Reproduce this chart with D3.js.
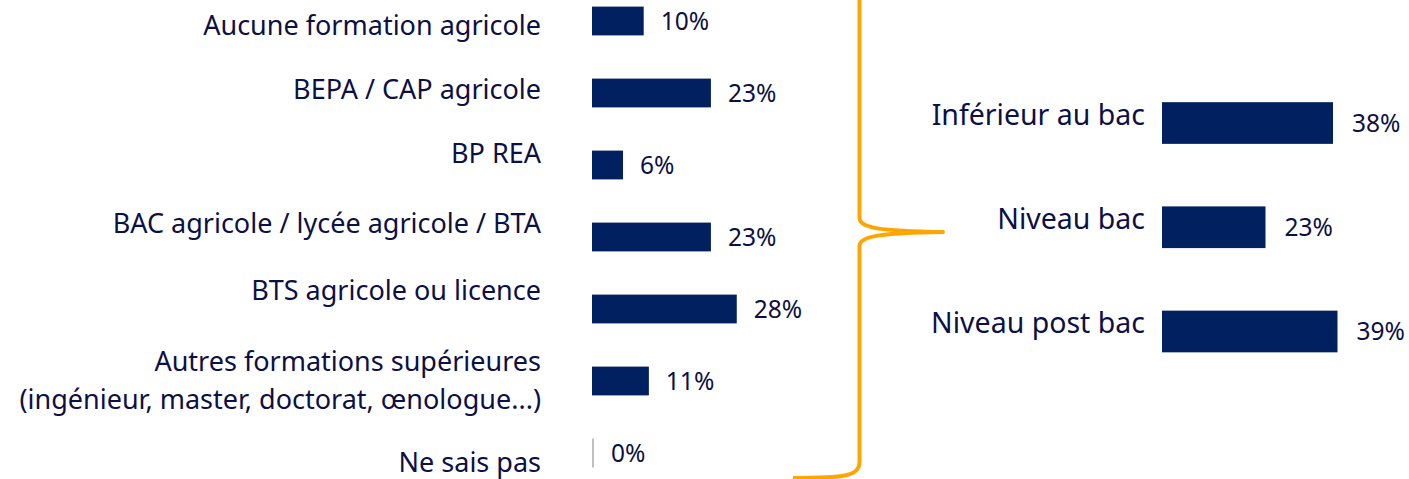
<!DOCTYPE html>
<html>
<head>
<meta charset="utf-8">
<script src="https://cdn.jsdelivr.net/npm/d3@7"></script>
<style>
  html, body { margin: 0; padding: 0; background: #ffffff; }
  svg { display: block; }
</style>
</head>
<body>
<svg id="chart" width="1409" height="479"></svg>
<script>
// ---- data ----
const categories = [
  "Aucune formation agricole",
  "BEPA / CAP agricole",
  "BP REA",
  "BAC agricole / lycée agricole / BTA",
  "BTS agricole ou licence",
  "Autres formations supérieures\n(ingénieur, master, doctorat, œnologue...)",
  "Ne sais pas"
];
const values = [10, 23, 6, 23, 28, 11, 0];

const groupCategories = ["Inférieur au bac", "Niveau bac", "Niveau post bac"];
const groupValues = [38, 23, 39];

// ---- layout (not data) ----
const labelBaselineOffsets = [14, 6, -2, -4, -9, -10, 19];
const W = 1409, H = 479;
const barColor = "#002060";
const textColor = "#0c1044";
const braceColor = "#FFA500";
const font = "'Noto Sans', 'DejaVu Sans', sans-serif";

const svg = d3.select("#chart");
svg.append("rect").attr("width", W).attr("height", H).attr("fill", "#fff");

// ---- left chart ----
const xL = d3.scaleLinear().domain([0, 100]).range([592, 592 + 517]);
const yL = d3.scaleBand().domain(categories).range([-15, 489])
  .paddingInner(0.6).paddingOuter(0.3);

const gL = svg.append("g");
const lData = categories.map((c, i) => ({c, v: values[i]}));
gL.selectAll("rect.bar").data(lData)
  .join("rect")
  .attr("class", "bar")
  .attr("x", xL(0))
  .attr("y", d => yL(d.c))
  .attr("width", d => Math.max(0, xL(d.v) - xL(0)))
  .attr("height", yL.bandwidth())
  .attr("fill", barColor);

// zero-value bar outline
gL.selectAll("line.zero").data(lData.filter(d => d.v === 0))
  .join("line")
  .attr("class", "zero")
  .attr("x1", xL(0) + 1).attr("x2", xL(0) + 1)
  .attr("y1", d => yL(d.c)).attr("y2", d => yL(d.c) + yL.bandwidth())
  .attr("stroke", "#bfbfbf").attr("stroke-width", 2);

// value labels
gL.selectAll("text.val").data(lData)
  .join("text")
  .attr("class", "val")
  .attr("x", d => xL(d.v) + (d.v === 0 ? 19 : 17))
  .attr("y", d => yL(d.c) + yL.bandwidth() / 2 + 9)
  .attr("font-family", font).attr("font-size", 24.5)
  .attr("fill", textColor)
  .text(d => d.v + "%");

// category labels
categories.forEach((c, i) => {
  const lines = c.split("\n");
  const cy = yL(c) + yL.bandwidth() / 2 + labelBaselineOffsets[i];
  const t = gL.append("text")
    .attr("text-anchor", "end")
    .attr("font-family", font).attr("font-size", 27)
    .attr("fill", textColor);
  lines.forEach((ln, j) => {
    t.append("tspan").attr("x", 541).attr("y", cy + j * 38).text(ln);
  });
});

// ---- brace ----
(function () {
  const x = 859.5, yTop = -14, yMid = 232, yBot = 478, tipX = 943, endX = 793;
  const p = d3.path();
  p.moveTo(endX, yTop);
  p.bezierCurveTo(845, yTop, x, yTop + 2, x, yTop + 16);
  p.lineTo(x, yMid - 14);
  p.bezierCurveTo(x, yMid - 4, 880, yMid - 1, tipX, yMid);
  p.bezierCurveTo(880, yMid + 1, x, yMid + 4, x, yMid + 14);
  p.lineTo(x, yBot - 16);
  p.bezierCurveTo(x, yBot - 2, 845, yBot, endX, yBot);
  svg.append("path").attr("d", p.toString())
    .attr("fill", "none").attr("stroke", braceColor)
    .attr("stroke-width", 4).attr("stroke-linejoin", "round");
})();

// ---- right chart ----
const xR = d3.scaleLinear().domain([0, 100]).range([1162, 1162 + 450]);
const yR = d3.scaleBand().domain(groupCategories).range([70.9, 383.6])
  .paddingInner(0.6).paddingOuter(0.3);

const gR = svg.append("g");
const rData = groupCategories.map((c, i) => ({c, v: groupValues[i]}));
gR.selectAll("rect").data(rData).join("rect")
  .attr("x", xR(0))
  .attr("y", d => yR(d.c))
  .attr("width", d => xR(d.v) - xR(0))
  .attr("height", yR.bandwidth())
  .attr("fill", barColor);

gR.selectAll("text.val").data(rData).join("text")
  .attr("class", "val")
  .attr("x", d => xR(d.v) + 19)
  .attr("y", d => yR(d.c) + yR.bandwidth() / 2 + 9)
  .attr("font-family", font).attr("font-size", 24.5)
  .attr("fill", textColor)
  .text(d => d.v + "%");

gR.selectAll("text.cat").data(rData).join("text")
  .attr("class", "cat")
  .attr("x", 1145)
  .attr("y", d => yR(d.c) + yR.bandwidth() / 2 + 1.5)
  .attr("text-anchor", "end")
  .attr("font-family", font).attr("font-size", 28.5)
  .attr("fill", textColor)
  .text(d => d.c);
</script>
</body>
</html>
